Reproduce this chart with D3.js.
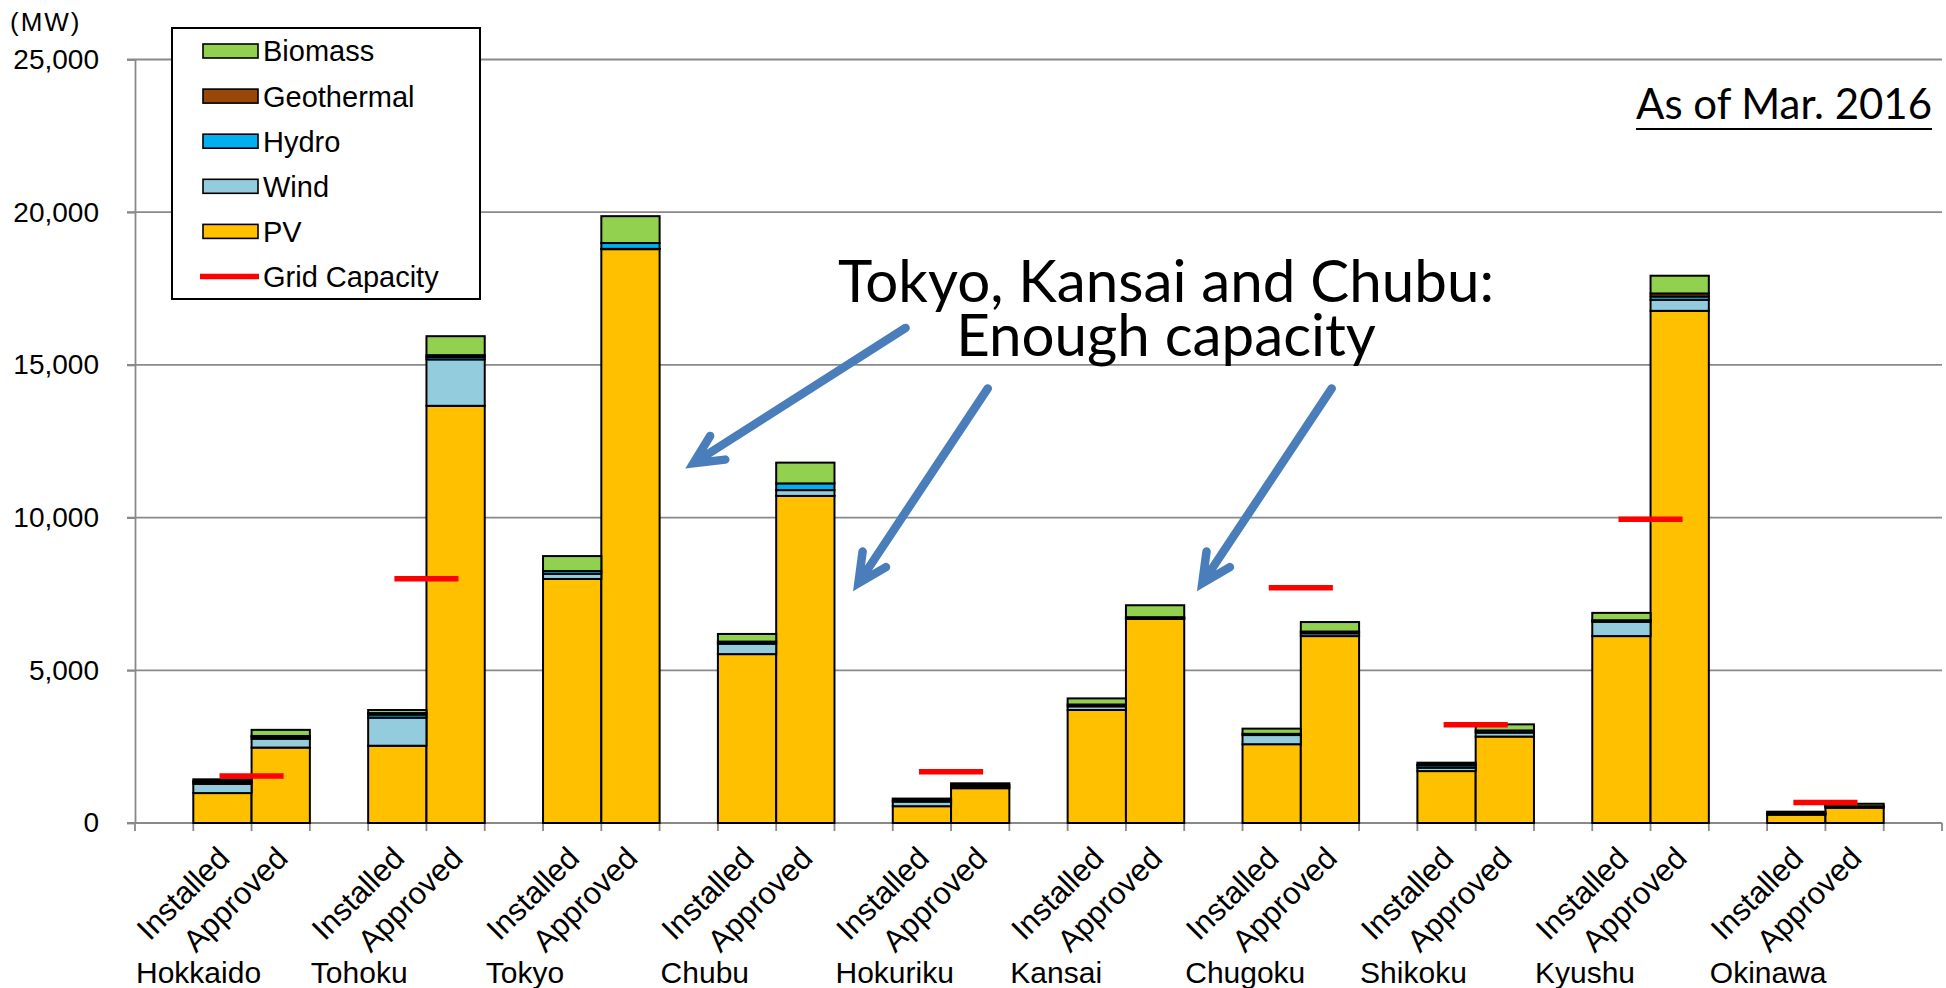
<!DOCTYPE html>
<html>
<head>
<meta charset="utf-8">
<script src="https://cdn.jsdelivr.net/npm/d3@7"></script>
<style>
  body { margin: 0; background: #fff; }
  svg { display: block; font-family: "Liberation Sans", Arial, sans-serif; }
</style>
</head>
<body>
<svg id="chart" width="1946" height="988"></svg>
<script>
// values (MW, as of Mar. 2016)
const regions = ["Hokkaido", "Tohoku", "Tokyo", "Chubu", "Hokuriku",
                 "Kansai", "Chugoku", "Shikoku", "Kyushu", "Okinawa"];
const statuses = ["Installed", "Approved"];
const sources = ["PV", "Wind", "Hydro", "Geothermal", "Biomass"]; // stack order, bottom -> top

const pvInstalled    = [980, 2530, 7990, 5530, 550, 3700, 2580, 1700, 6120, 270];
const pvApproved     = [2470, 13660, 18790, 10710, 1140, 6680, 6120, 2830, 16770, 500];
const windInstalled  = [300, 920, 170, 340, 150, 120, 300, 110, 470, 30];
const windApproved   = [290, 1520, 10, 190, 40, 20, 90, 130, 360, 40];
const hydroInstalled = [60, 100, 90, 70, 50, 60, 40, 80, 30, 10];
const hydroApproved  = [60, 80, 190, 220, 60, 40, 60, 70, 110, 10];
const geoInstalled   = [30, 50, 0, 0, 0, 0, 0, 20, 20, 0];
const geoApproved    = [30, 60, 0, 0, 0, 0, 0, 0, 100, 0];
const bioInstalled   = [60, 100, 490, 250, 50, 200, 170, 65, 240, 60];
const bioApproved    = [200, 620, 880, 680, 60, 390, 310, 200, 580, 80];
const gridCapacity   = [1540, 8000, null, null, 1680, null, 7700, 3220, 9950, 670];

const yTicks = [0, 5000, 10000, 15000, 20000, 25000];
const legendItems = ["Biomass", "Geothermal", "Hydro", "Wind", "PV"];

const colors = {
  PV: "#FFC000", Wind: "#93CDDD", Hydro: "#00B0F0",
  Geothermal: "#984807", Biomass: "#92D050"
};

// annotation: arrows in (slot, MW) space
const arrowTails = [[13.22, 16210], [14.63, 14230], [20.53, 14230]];
const arrowTips  = [[9.58, 11780], [12.41, 7850], [18.31, 7850]];

const svg = d3.select("#chart");
const plot = {left: 135, right: 1942, top: 59.5, bottom: 823};
const gridColor = "#898989";

// each region takes 3 slots: gap, installed, approved (+1 trailing gap)
const nSlots = regions.length * 3 + 1;
const x = d3.scaleBand().domain(d3.range(nSlots)).range([plot.left, plot.right]).padding(0);
const y = d3.scaleLinear().domain([0, 25000]).range([plot.bottom, plot.top]);
const xs = s => plot.left + s * x.step();

// rows for stacking
const byStatus = {
  Installed: {PV: pvInstalled, Wind: windInstalled, Hydro: hydroInstalled, Geothermal: geoInstalled, Biomass: bioInstalled},
  Approved:  {PV: pvApproved, Wind: windApproved, Hydro: hydroApproved, Geothermal: geoApproved, Biomass: bioApproved}
};
const rows = [];
regions.forEach((r, i) => {
  statuses.forEach((st, j) => {
    const row = {region: r, status: st, slot: i * 3 + 1 + j};
    sources.forEach(k => row[k] = byStatus[st][k][i]);
    rows.push(row);
  });
});
const series = d3.stack().keys(sources)(rows);

//gridlines (with the little outside tick)
svg.append("g").selectAll("line")
  .data(yTicks)
  .join("line")
    .attr("x1", plot.left - 8).attr("x2", plot.right)
    .attr("y1", d => y(d)).attr("y2", d => y(d))
    .attr("stroke", gridColor).attr("stroke-width", 1.8);

// y axis
const yAxis = svg.append("g")
    .attr("transform", `translate(${plot.left},0)`)
    .call(d3.axisLeft(y).tickValues(yTicks).tickFormat(d3.format(","))
      .tickSize(8).tickSizeOuter(0).tickPadding(28));
yAxis.select(".domain").attr("stroke", gridColor).attr("stroke-width", 1.8);
yAxis.selectAll(".tick line").attr("stroke", gridColor).attr("stroke-width", 1.8);
yAxis.selectAll(".tick text")
    .attr("font-size", 28).attr("font-family", "Liberation Sans, Arial, sans-serif")
    .attr("fill", "#000");

svg.append("text")
    .attr("x", 10).attr("y", 31)
    .attr("font-size", 26).attr("letter-spacing", 2)
    .text("(MW)");

// x axis line + boundary ticks
svg.append("line")
    .attr("x1", plot.left).attr("x2", plot.right)
    .attr("y1", plot.bottom).attr("y2", plot.bottom)
    .attr("stroke", gridColor).attr("stroke-width", 1.8);
svg.append("g").selectAll("line")
  .data(d3.range(nSlots + 1))
  .join("line")
    .attr("x1", d => xs(d)).attr("x2", d => xs(d))
    .attr("y1", plot.bottom).attr("y2", plot.bottom + 8)
    .attr("stroke", gridColor).attr("stroke-width", 1.8);

// stacked bars
svg.append("g").selectAll("g")
  .data(series)
  .join("g")
    .attr("fill", d => colors[d.key])
  .selectAll("rect")
  .data(d => d.filter(p => p[1] - p[0] > 0))
  .join("rect")
    .attr("x", d => x(d.data.slot))
    .attr("width", x.bandwidth())
    .attr("y", d => y(d[1]))
    .attr("height", d => y(d[0]) - y(d[1]))
    .attr("stroke", "#000")
    .attr("stroke-width", 2);

// grid capacity marks
svg.append("g").selectAll("line")
  .data(gridCapacity.map((v, i) => ({v, i})).filter(d => d.v != null))
  .join("line")
    .attr("x1", d => xs(d.i * 3 + 2) - 0.55 * x.step())
    .attr("x2", d => xs(d.i * 3 + 2) + 0.55 * x.step())
    .attr("y1", d => y(d.v)).attr("y2", d => y(d.v))
    .attr("stroke", "#FF0000").attr("stroke-width", 5.5);

// category labels
svg.append("g").selectAll("text")
  .data(rows)
  .join("text")
    .attr("text-anchor", "end")
    .attr("font-size", 31)
    .attr("transform", d => `translate(${x(d.slot) + x.bandwidth() / 2 + 9},${plot.bottom + 37}) rotate(-45)`)
    .text(d => d.status);

svg.append("g").selectAll("text")
  .data(regions)
  .join("text")
    .attr("x", (d, i) => xs(i * 3) + 1)
    .attr("y", 983)
    .attr("font-size", 30)
    .text(d => d);

// legend
const lg = svg.append("g").attr("transform", "translate(172,28)");
lg.append("rect")
    .attr("width", 308).attr("height", 271)
    .attr("fill", "#fff").attr("stroke", "#000").attr("stroke-width", 2);
const rowY = i => 23 + i * 45.1;
lg.selectAll("rect.sw")
  .data(legendItems)
  .join("rect")
    .attr("class", "sw")
    .attr("x", 31).attr("y", (d, i) => rowY(i) - 7)
    .attr("width", 55).attr("height", 14)
    .attr("fill", d => colors[d]).attr("stroke", "#000").attr("stroke-width", 1.6);
lg.append("line")
    .attr("x1", 28).attr("x2", 87)
    .attr("y1", rowY(5)).attr("y2", rowY(5))
    .attr("stroke", "#FF0000").attr("stroke-width", 5.5);
lg.selectAll("text")
  .data(legendItems.concat(["Grid Capacity"]))
  .join("text")
    .attr("x", 91).attr("y", (d, i) => rowY(i))
    .attr("dy", "0.36em")
    .attr("font-size", 29)
    .text(d => d);

// annotations
function fitText(sel, width, base) {
  sel.attr("font-size", base);
  const w = sel.node().getComputedTextLength();
  sel.attr("font-size", base * width / w);
}
const note = svg.append("g").attr("font-family", "Lato, sans-serif").attr("fill", "#000");
const l1 = note.append("text").attr("x", 1166).attr("y", 302).attr("text-anchor", "middle")
    .text("Tokyo, Kansai and Chubu:");
fitText(l1, 656, 57);
note.append("text").attr("x", 1166).attr("y", 356).attr("text-anchor", "middle")
    .attr("font-size", l1.attr("font-size"))
    .text("Enough capacity");

const asOf = note.append("text").attr("x", 1932).attr("y", 119).attr("text-anchor", "end")
    .text("As of Mar. 2016");
fitText(asOf, 296, 41);
note.append("line")
    .attr("x1", 1636).attr("x2", 1932).attr("y1", 129).attr("y2", 129)
    .attr("stroke", "#000").attr("stroke-width", 2);

// arrows
const arrowColor = "#4A7EBB";
const headLen = 32, headAng = 26 * Math.PI / 180;
svg.append("g").selectAll("path")
  .data(arrowTails.map((t, i) => [t, arrowTips[i]]))
  .join("path")
    .attr("d", ([t, h]) => {
      const tx = xs(t[0]), ty = y(t[1]), hx = xs(h[0]), hy = y(h[1]);
      const a = Math.atan2(ty - hy, tx - hx);
      const w1 = [hx + headLen * Math.cos(a + headAng), hy + headLen * Math.sin(a + headAng)];
      const w2 = [hx + headLen * Math.cos(a - headAng), hy + headLen * Math.sin(a - headAng)];
      return `M${tx},${ty}L${hx},${hy}M${w1}L${hx},${hy}L${w2}`;
    })
    .attr("fill", "none")
    .attr("stroke", arrowColor)
    .attr("stroke-width", 8.5)
    .attr("stroke-linecap", "round")
    .attr("stroke-linejoin", "miter");
</script>
</body>
</html>
